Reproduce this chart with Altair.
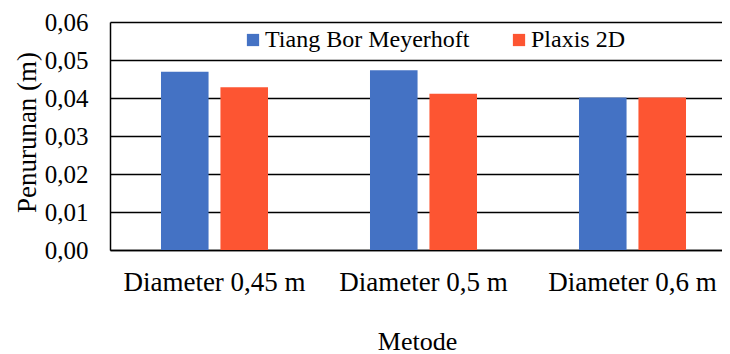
import altair as alt
import pandas as pd

categories = ["Diameter 0,45 m", "Diameter 0,5 m", "Diameter 0,6 m"]
series = ["Tiang Bor Meyerhoft", "Plaxis 2D"]
meyerhoft = [0.0469, 0.0473, 0.0401]
plaxis = [0.0428, 0.0411, 0.0401]
colors = ["#4472C4", "#FD5532"]
y_ticks = [0.0, 0.01, 0.02, 0.03, 0.04, 0.05, 0.06]

rows = []
for c, a, b in zip(categories, meyerhoft, plaxis):
    rows.append({"Metode": c, "Seri": series[0], "Penurunan": a})
    rows.append({"Metode": c, "Seri": series[1], "Penurunan": b})
df = pd.DataFrame(rows)

FONT = "'Liberation Serif', 'Times New Roman', Times, serif"

chart = alt.Chart(df).mark_bar().encode(
    x=alt.X("Metode:N", sort=categories,
            scale=alt.Scale(range=[0, 627], paddingInner=0.488, paddingOuter=0.244),
            axis=alt.Axis(title="Metode", labelAngle=0, ticks=False, domain=True,
                          domainColor="black", domainWidth=1.5,
                          labelFont=FONT, labelFontSize=27, labelColor="black",
                          labelPadding=19, labelLimit=0, labelBaseline="top",
                          titleFont=FONT, titleFontSize=26,
                          titleFontWeight="normal", titleColor="black",
                          titleBaseline="alphabetic", titleAlign="center",
                          titleX=307, titleY=99)),
    xOffset=alt.XOffset("Seri:N", sort=series,
                        scale=alt.Scale(paddingInner=0.2, paddingOuter=0)),
    y=alt.Y("Penurunan:Q", scale=alt.Scale(domain=[0, 0.06], nice=False),
            axis=alt.Axis(title="Penurunan (m)", values=y_ticks, ticks=False,
                          labelExpr="replace(format(datum.value, '.2f'), '.', ',')",
                          grid=True, gridColor="black", gridWidth=1.4,
                          domain=True, domainColor="black", domainWidth=1.5,
                          labelFont=FONT, labelFontSize=25, labelColor="black",
                          labelPadding=22, titleFont=FONT, titleFontSize=27,
                          titleFontWeight="normal", titleColor="black",
                          titleAngle=270, titleAlign="center", titleBaseline="alphabetic",
                          titleX=-75, titleY=110)),
    color=alt.Color("Seri:N", sort=series,
                    scale=alt.Scale(domain=series, range=colors),
                    legend=alt.Legend(title=None, orient="none", direction="horizontal",
                                      legendX=131, legendY=6, symbolType="square",
                                      symbolSize=150, symbolStrokeWidth=0,
                                      labelFont=FONT, labelFontSize=24, labelLimit=0,
                                      labelColor="black", columnPadding=37,
                                      labelOffset=0, fillColor="white")),
).properties(
    width=612, height=228,
    autosize=alt.AutoSizeParams(type="none"),
    padding={"left": 102, "top": 14, "right": 0, "bottom": 104},
).configure_view(stroke=None)

chart.save("out.html", embed_options={"renderer": "svg", "actions": False})
